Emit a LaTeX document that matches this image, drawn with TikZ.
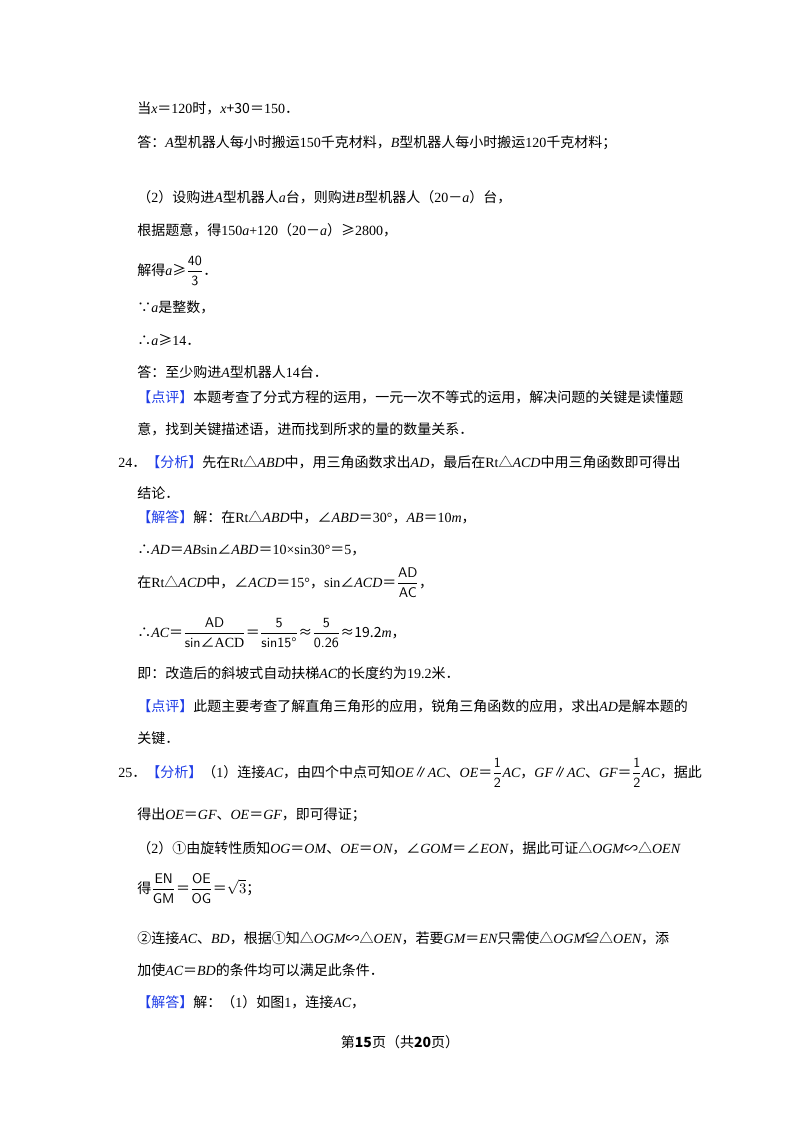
\documentclass[tikz,border=0pt]{standalone}
\usepackage{fontspec}
\usepackage{amsmath}
\setmainfont{Liberation Serif}
\newfontfamily\cjk{Noto Sans CJK SC}
\XeTeXinterchartokenstate=1
\newXeTeXintercharclass\CJKcls
\count255="3000
\loop \XeTeXcharclass\count255=\CJKcls \ifnum\count255<"9FFF \advance\count255 1 \repeat
\count255="FF00
\loop \XeTeXcharclass\count255=\CJKcls \ifnum\count255<"FFEF \advance\count255 1 \repeat
\XeTeXcharclass"2220=\CJKcls \XeTeXcharclass"25B3=\CJKcls \XeTeXcharclass"2235=\CJKcls
\XeTeXcharclass"2234=\CJKcls \XeTeXcharclass"2265=\CJKcls \XeTeXcharclass"224C=\CJKcls
\XeTeXcharclass"223D=\CJKcls \XeTeXcharclass"2225=\CJKcls \XeTeXcharclass"2460=\CJKcls
\XeTeXcharclass"2461=\CJKcls \XeTeXcharclass"3001=\CJKcls
\XeTeXinterchartoks 0 \CJKcls = {\cjk}
\XeTeXinterchartoks 4095 \CJKcls = {\cjk}
\XeTeXinterchartoks \CJKcls 0 = {\rmfamily}
\definecolor{hb}{RGB}{30,60,230}
\newcommand{\hl}[1]{\textcolor{hb}{#1}}
\newcommand{\vi}[1]{{\rmfamily\itshape #1}}
\newcommand{\fr}[2]{\ensuremath{\dfrac{\mbox{\sffamily #1}}{\mbox{\sffamily #2}}}}
\begin{document}
\begin{tikzpicture}[x=0.75pt,y=-0.75pt,every node/.style={inner sep=0pt,anchor=base west,font=\fontsize{10.5pt}{12pt}\selectfont}]
\useasboundingbox (0,0) rectangle (800,1132);
\node (l1) at (137,113) {当\vi{x}＝120时，\vi{x}+30＝150．};
\node (l2) at (137,147) {答：\vi{A}型机器人每小时搬运150千克材料，\vi{B}型机器人每小时搬运120千克材料；};
\node (l3) at (137,202) {（2）设购进\vi{A}型机器人\vi{a}台，则购进\vi{B}型机器人（20－\vi{a}）台，};
\node (l4) at (137,235) {根据题意，得150\vi{a}+120（20－\vi{a}）≥2800，};
\node (l5) at (137,275) {解得\vi{a}≥\fr{40}{3}．};
\node (l6) at (137,312) {∵\vi{a}是整数，};
\node (l7) at (137,345) {∴\vi{a}≥14．};
\node (l8) at (137,377) {答：至少购进\vi{A}型机器人14台．};
\node (l9) at (137,402) {\hl{【点评】}本题考查了分式方程的运用，一元一次不等式的运用，解决问题的关键是读懂题};
\node (l10) at (137,434) {意，找到关键描述语，进而找到所求的量的数量关系．};
\node (l11) at (118,467) {24．\hl{【分析】}先在{\rmfamily Rt}△\vi{ABD}中，用三角函数求出\vi{AD}，最后在{\rmfamily Rt}△\vi{ACD}中用三角函数即可得出};
\node (l12) at (137,498) {结论．};
\node (l13) at (137,522) {\hl{【解答】}解：在{\rmfamily Rt}△\vi{ABD}中，∠\vi{ABD}＝30°，\vi{AB}＝10\vi{m}，};
\node (l14) at (137,554) {∴\vi{AD}＝\vi{AB}{\rmfamily sin}∠\vi{ABD}＝10×sin30°＝5，};
\node (l15) at (137,587) {在{\rmfamily Rt}△\vi{ACD}中，∠\vi{ACD}＝15°，sin∠\vi{ACD}＝\fr{AD}{AC}，};
\node (l16) at (137,637) {∴\vi{AC}＝\fr{AD}{sin∠ACD}＝\fr{5}{sin15°}≈\fr{5}{0.26}≈19.2\vi{m}，};
\node (l17) at (137,678) {即：改造后的斜坡式自动扶梯\vi{AC}的长度约为19.2米．};
\node (l18) at (137,711) {\hl{【点评】}此题主要考查了解直角三角形的应用，锐角三角函数的应用，求出\vi{AD}是解本题的};
\node (l19) at (137,743) {关键．};
\node (l20) at (118,777) {25．\hl{【分析】}（1）连接\vi{AC}，由四个中点可知\vi{OE}∥\vi{AC}、\vi{OE}＝\fr{1}{2}\vi{AC}，\vi{GF}∥\vi{AC}、\vi{GF}＝\fr{1}{2}\vi{AC}，据此};
\node (l21) at (137,819) {得出\vi{OE}＝\vi{GF}、\vi{OE}＝\vi{GF}，即可得证；};
\node (l22) at (137,853) {（2）①由旋转性质知\vi{OG}＝\vi{OM}、\vi{OE}＝\vi{ON}，∠\vi{GOM}＝∠\vi{EON}，据此可证△\vi{OGM}∽△\vi{OEN}};
\node (l23) at (137,893) {得\fr{EN}{GM}＝\fr{OE}{OG}＝$\sqrt{3}$；};
\node (l24) at (137,943) {②连接\vi{AC}、\vi{BD}，根据①知△\vi{OGM}∽△\vi{OEN}，若要\vi{GM}＝\vi{EN}只需使△\vi{OGM}≌△\vi{OEN}，添};
\node (l25) at (137,975) {加使\vi{AC}＝\vi{BD}的条件均可以满足此条件．};
\node (l26) at (137,1007) {\hl{【解答】}解：（1）如图1，连接\vi{AC}，};
\node[anchor=base] (pg) at (400,1047) {第\textbf{15}页（共\textbf{20}页）};
\end{tikzpicture}
\end{document}
